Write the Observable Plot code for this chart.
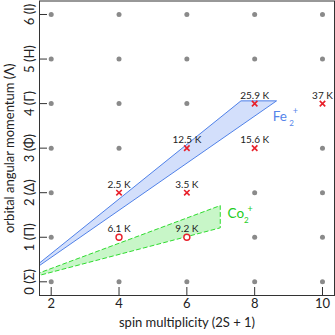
<!DOCTYPE html>
<html>
<head>
<meta charset="utf-8">
<script src="https://cdn.jsdelivr.net/npm/d3@7"></script>
<script src="https://cdn.jsdelivr.net/npm/@observablehq/plot@0.6"></script>
<style>
  html, body { margin: 0; padding: 0; background: #fff; }
</style>
</head>
<body>
<div id="chart"></div>
<script>
// Axis ticks
const sTicks = [2, 4, 6, 8, 10];
const lTicks = [0, 1, 2, 3, 4, 5, 6];
const lTickLabels = ["0 (Σ)", "1 (Π)", "2 (Δ)", "3 (Φ)", "4 (Γ)", "5 (H)", "6 (I)"];

// Measured states
const measS = [4, 4, 6, 6, 6, 8, 8, 10];
const measL = [2, 1, 3, 2, 1, 4, 3, 4];
const measText = ["2.5 K", "6.1 K", "12.5 K", "3.5 K", "9.2 K", "25.9 K", "15.6 K", "37 K"];
const measKind = ["x", "o", "x", "x", "o", "x", "x", "x"];

// Fe2+ wedge
const feL = [0, 4.05];
const feS1 = [1, 7.61];
const feS2 = [1, 8.66];

// Co2+ wedge
const coS = [1, 7];
const coL1 = [0, 1.2];
const coL2 = [0, 1.7];

// Ion labels
const ionName = ["Fe", "Co"];
const ionS = [8.53, 7.2];
const ionL = [3.71, 1.53];
const ionColor = ["#5585ea", "#22cc22"];

const grid = [];
for (const s of sTicks) for (const l of lTicks) {
  if (!measS.some((ms, i) => ms === s && measL[i] === l)) grid.push({s, l});
}
const meas = measS.map((s, i) => ({s, l: measL[i], t: measText[i], k: measKind[i]}));
const fe = feL.map((l, i) => ({l, s1: feS1[i], s2: feS2[i]}));
const co = coS.map((s, i) => ({s, l1: coL1[i], l2: coL2[i]}));
const ions = ionName.map((n, i) => ({n, s: ionS[i], l: ionL[i], c: ionColor[i]}));

const font = "Lato, 'Open Sans', sans-serif";

const chart = Plot.plot({
  width: 335,
  height: 335,
  marginLeft: 39,
  marginRight: 1,
  marginTop: 0.5,
  marginBottom: 40,
  style: {fontFamily: font, fontSize: "12px", background: "#fff", color: "#222"},
  x: {domain: [1.655, 10.354], axis: null},
  y: {domain: [-0.3075, 6.303], axis: null},
  marks: [
    Plot.areaX(fe, {y: "l", x1: "s1", x2: "s2", fill: "#d3dffb", stroke: "#4f80e8", strokeWidth: 1, clip: true}),
    Plot.areaY(co, {x: "s", y1: "l1", y2: "l2", fill: "#c8f6c8", stroke: "#2edb2e", strokeWidth: 1, strokeDasharray: "4,3", clip: true}),
    Plot.dot(grid, {x: "s", y: "l", r: 2.5, fill: "#8a8a8a", stroke: null}),
    Plot.dot(meas.filter(d => d.k === "x"), {x: "s", y: "l", symbol: "times", r: 2.6, stroke: "#e8202a", strokeWidth: 1.6}),
    Plot.dot(meas.filter(d => d.k === "o"), {x: "s", y: "l", symbol: "circle", r: 3, stroke: "#e8202a", fill: "#fff", strokeWidth: 1.4}),
    Plot.text(meas, {x: "s", y: "l", text: "t", dy: -8, fontSize: 10, fill: "#222"}),
    Plot.text(ions, {x: "s", y: "l", text: "n", fill: "c", textAnchor: "start", fontSize: 13.5}),
    Plot.text(ions, {x: "s", y: "l", text: () => "2", fill: "c", textAnchor: "start", fontSize: 8, dx: 16.5, dy: 6.5}),
    Plot.text(ions, {x: "s", y: "l", text: () => "+", fill: "c", textAnchor: "start", fontSize: 9, dx: 20, dy: -5}),
    Plot.frame({stroke: "#333"}),
    Plot.tickX(sTicks, {x: d => d, insetTop: 286.5, stroke: "#333"}),
    Plot.tickY(lTicks, {y: d => d, insetRight: 287, stroke: "#333"}),
    Plot.text(sTicks, {x: d => d, text: d => String(d), frameAnchor: "bottom", dy: 12, fontSize: 13, fill: "#222"}),
    Plot.text(lTicks, {y: d => d, text: (d, i) => lTickLabels[i], frameAnchor: "left", dx: -10, rotate: -90, textAnchor: "middle", fontSize: 13, fill: "#222"}),
    Plot.text(["spin multiplicity (2S + 1)"], {text: d => d, frameAnchor: "bottom", dy: 31, fontSize: 13, fill: "#222"}),
    Plot.text(["orbital angular momentum (Λ)"], {text: d => d, frameAnchor: "left", dx: -29.5, rotate: -90, textAnchor: "middle", fontSize: 13, fill: "#222"})
  ]
});
document.getElementById("chart").appendChild(chart);
</script>
</body>
</html>
